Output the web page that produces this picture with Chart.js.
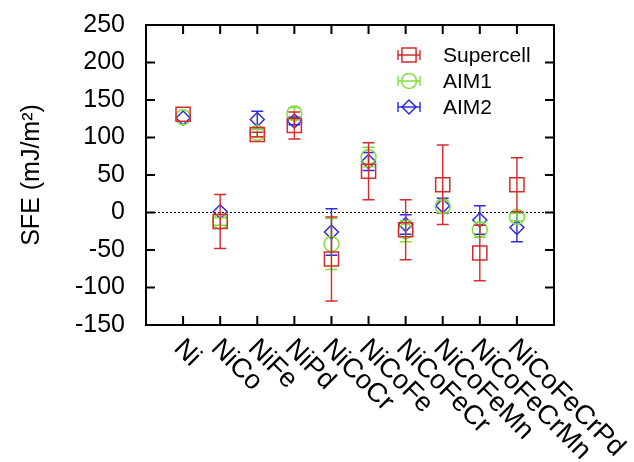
<!DOCTYPE html>
<html>
<head>
<meta charset="utf-8">
<script src="https://cdn.jsdelivr.net/npm/chart.js@4.4.1/dist/chart.umd.min.js"></script>
<style>
  html, body { margin: 0; padding: 0; background: #fff; }
  #wrap { width: 634px; height: 462px; }
</style>
</head>
<body>
<div id="wrap"><canvas id="sfeChart" width="634" height="462"></canvas></div>
<script>
// stacking fault energies per alloy, mJ/m^2
const alloys = ['Ni', 'NiCo', 'NiFe', 'NiPd', 'NiCoCr', 'NiCoFe', 'NiCoFeCr', 'NiCoFeMn', 'NiCoFeCrMn', 'NiCoFeCrPd'];
const yTicks = [-150, -100, -50, 0, 50, 100, 150, 200, 250];

const supercell = [131, -12, 104, 116, -62, 55, -23, 37, -54, 37];
const supercellErr = [0, 36, 3, 18, 56, 38, 40, 53, 37, 36];
const aim1 = [127, -12, 106, 132, -42, 74, -25, 8, -23, -6];
const aim1Err = [0, 5, 5, 8, 34, 13, 14, 8, 10, 5];
const aim2 = [126, 1, 124, 122, -26, 68, -16, 9, -10, -20];
const aim2Err = [0, 0, 11, 5, 31, 12, 13, 10, 19, 19];

const RED = '#d42b2b';
const GREEN = '#7fe03a';
const BLUE = '#2b2be0';
const FONT = "'Liberation Sans', Arial, sans-serif";

function series(label, vals, errs, color, style, radius) {
  return {
    label: label,
    data: vals.map((v, i) => ({ x: i, y: v })),
    errors: errs,
    borderColor: color,
    backgroundColor: 'rgba(0,0,0,0)',
    pointStyle: style,
    pointRadius: radius,
    pointBorderWidth: 1.5,
    showLine: false
  };
}

// vertical error bars, drawn right before each dataset's markers
const errorBars = {
  id: 'errorBars',
  beforeDatasetDraw(chart, args) {
    const ds = chart.data.datasets[args.index];
    const xs = chart.scales.x, ys = chart.scales.y;
    const ctx = chart.ctx;
    ctx.save();
    ctx.strokeStyle = ds.borderColor;
    ctx.lineWidth = 1.4;
    ds.data.forEach((p, i) => {
      const e = ds.errors[i];
      if (!e) return;
      const x = xs.getPixelForValue(p.x);
      const top = ys.getPixelForValue(p.y + e);
      const bot = ys.getPixelForValue(p.y - e);
      ctx.beginPath();
      ctx.moveTo(x, top); ctx.lineTo(x, bot);
      ctx.moveTo(x - 6, top); ctx.lineTo(x + 6, top);
      ctx.moveTo(x - 6, bot); ctx.lineTo(x + 6, bot);
      ctx.stroke();
    });
    ctx.restore();
  }
};

// zero line, frame with inward ticks, slanted alloy names, key
const frame = {
  id: 'frame',
  beforeDatasetsDraw(chart) {
    const { ctx, chartArea: a, scales } = chart;
    const y0 = scales.y.getPixelForValue(0);
    ctx.save();
    ctx.strokeStyle = '#000';
    ctx.lineWidth = 1;
    ctx.setLineDash([2, 2]);
    ctx.beginPath();
    ctx.moveTo(a.left, y0); ctx.lineTo(a.right, y0);
    ctx.stroke();
    ctx.restore();
  },
  afterDraw(chart) {
    const { ctx, chartArea: a, scales } = chart;
    const tick = 9;
    ctx.save();
    ctx.strokeStyle = '#000';
    ctx.lineWidth = 2;
    ctx.strokeRect(a.left, a.top, a.right - a.left, a.bottom - a.top);
    ctx.beginPath();
    yTicks.forEach(v => {
      const y = scales.y.getPixelForValue(v);
      ctx.moveTo(a.left, y); ctx.lineTo(a.left + tick, y);
      ctx.moveTo(a.right, y); ctx.lineTo(a.right - tick, y);
    });
    alloys.forEach((_, i) => {
      const x = scales.x.getPixelForValue(i);
      ctx.moveTo(x, a.top); ctx.lineTo(x, a.top + tick);
      ctx.moveTo(x, a.bottom); ctx.lineTo(x, a.bottom - tick);
    });
    ctx.stroke();

    // alloy names, running down to the right from each tick
    ctx.fillStyle = '#000';
    ctx.font = '27px ' + FONT;
    ctx.textAlign = 'left';
    ctx.textBaseline = 'middle';
    alloys.forEach((name, i) => {
      const x = scales.x.getPixelForValue(i);
      ctx.save();
      ctx.translate(x - 5, a.bottom + 19);
      ctx.rotate(Math.PI / 4);
      ctx.fillText(name, 0, 0);
      ctx.restore();
    });

    // key
    ctx.font = '21px ' + FONT;
    const keyX = 409, textX = 443;
    chart.data.datasets.forEach((ds, k) => {
      const y = 55 + k * 26;
      ctx.strokeStyle = ds.borderColor;
      ctx.lineWidth = 1.4;
      ctx.beginPath();
      ctx.moveTo(keyX - 11, y); ctx.lineTo(keyX + 11, y);
      ctx.moveTo(keyX - 11, y - 5); ctx.lineTo(keyX - 11, y + 5);
      ctx.moveTo(keyX + 11, y - 5); ctx.lineTo(keyX + 11, y + 5);
      ctx.stroke();
      ctx.lineWidth = 1.5;
      ctx.beginPath();
      const r = ds.pointRadius;
      if (ds.pointStyle === 'rect') {
        const h = r * Math.SQRT1_2;
        ctx.rect(keyX - h, y - h, 2 * h, 2 * h);
      } else if (ds.pointStyle === 'circle') {
        ctx.arc(keyX, y, r, 0, Math.PI * 2);
      } else {
        ctx.moveTo(keyX, y - r); ctx.lineTo(keyX + r, y);
        ctx.lineTo(keyX, y + r); ctx.lineTo(keyX - r, y);
        ctx.closePath();
      }
      ctx.stroke();
      ctx.fillStyle = '#000';
      ctx.fillText(ds.label, textX, y + 1);
    });
    ctx.restore();
  }
};

new Chart(document.getElementById('sfeChart').getContext('2d'), {
  type: 'scatter',
  data: {
    datasets: [
      series('Supercell', supercell, supercellErr, RED, 'rect', 10),
      series('AIM1', aim1, aim1Err, GREEN, 'circle', 7.5),
      series('AIM2', aim2, aim2Err, BLUE, 'rectRot', 7)
    ]
  },
  options: {
    responsive: false,
    animation: false,
    layout: { padding: { left: 0, top: 25, right: 80, bottom: 137 } },
    plugins: {
      legend: { display: false },
      tooltip: { enabled: false }
    },
    scales: {
      x: { type: 'linear', display: false, min: -1, max: 10 },
      y: {
        min: -150,
        max: 250,
        afterFit(scale) {
          scale.width = 146;
          scale.paddingTop = 0;
          scale.paddingBottom = 0;
        },
        afterBuildTicks(scale) { scale.ticks = yTicks.map(v => ({ value: v })); },
        grid: { display: false, drawTicks: false },
        border: { display: false },
        ticks: { color: '#000', padding: 21, font: { family: FONT, size: 25 } },
        title: {
          display: true,
          text: 'SFE (mJ/m\u00b2)',
          color: '#000',
          padding: { top: 17, bottom: 0 },
          font: { family: FONT, size: 25 }
        }
      }
    }
  },
  plugins: [errorBars, frame]
});
</script>
</body>
</html>
